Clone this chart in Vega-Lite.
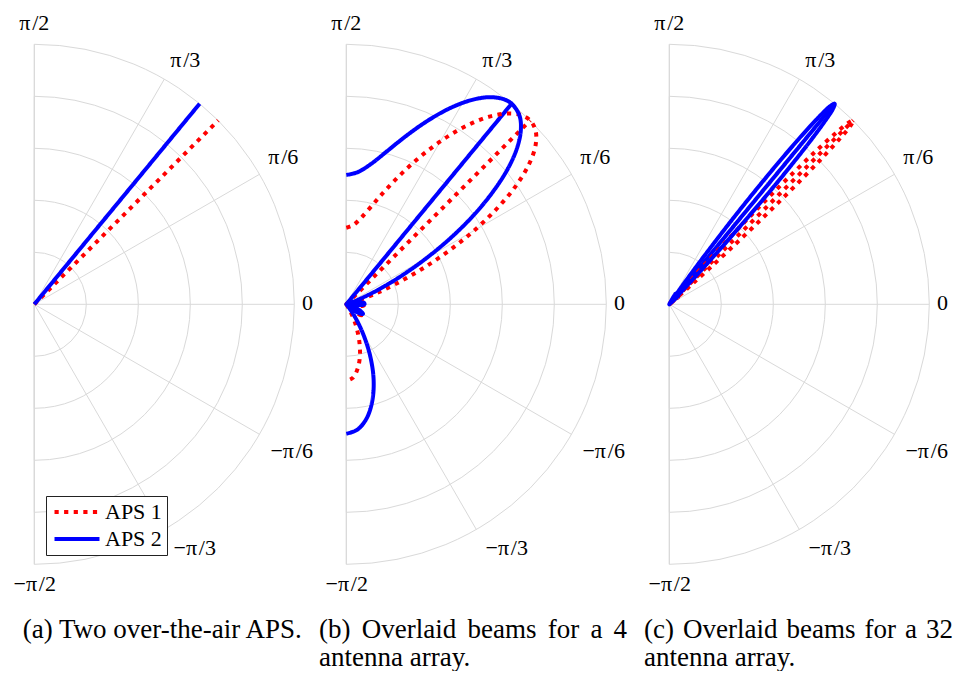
{
  "$schema": "https://vega.github.io/schema/vega-lite/v6.json",
  "padding": 0,
  "spacing": 0,
  "bounds": "flush",
  "background": "white",
  "config": {"view": {"stroke": null}, "font": "Liberation Serif"},
  "datasets": {
    "grid": [
      {"x": 0, "y": 0, "r": 1, "t0": 90, "t1": -90},
      {"x": 0, "y": 0, "r": 2, "t0": 90, "t1": -90},
      {"x": 0, "y": 0, "r": 3, "t0": 90, "t1": -90},
      {"x": 0, "y": 0, "r": 4, "t0": 90, "t1": -90},
      {"x": 0, "y": 0, "r": 5, "t0": 90, "t1": -90}
    ],
    "spokes": [
      {"x": 0, "y": 0, "x2": 5, "y2": 0},
      {"x": 0, "y": 0, "x2": 4.3301, "y2": 2.5},
      {"x": 0, "y": 0, "x2": 2.5, "y2": 4.3301},
      {"x": 0, "y": 0, "x2": 4.3301, "y2": -2.5},
      {"x": 0, "y": 0, "x2": 2.5, "y2": -4.3301},
      {"x": 0, "y": -5, "x2": 0, "y2": 5}
    ],
    "ticks": [
      {"label": "π\u200a/2", "x": 0, "y": 5.275},
      {"label": "π\u200a/3", "x": 2.904, "y": 4.569},
      {"label": "π\u200a/6", "x": 4.788, "y": 2.698},
      {"label": "0", "x": 5.254, "y": -0.11},
      {"label": "−π\u200a/6", "x": 4.95, "y": -2.95},
      {"label": "−π\u200a/3", "x": 3.085, "y": -4.821},
      {"label": "−π\u200a/2", "x": 0.008, "y": -5.513}
    ],
    "a": [
      {"series": "APS 1", "seg": "L", "i": 0, "x": 0, "y": 0},
      {"series": "APS 1", "seg": "L", "i": 1, "x": 3.5355, "y": 3.5355},
      {"series": "APS 2", "seg": "L", "i": 0, "x": 0, "y": 0},
      {"series": "APS 2", "seg": "L", "i": 1, "x": 3.18, "y": 3.858}
    ],
    "b": [
      {"series": "APS 1", "seg": "L", "i": 0, "x": 0, "y": 0},
      {"series": "APS 1", "seg": "L", "i": 1, "x": 3.5355, "y": 3.5355},
      {"series": "APS 2", "seg": "L", "i": 0, "x": 0, "y": 0},
      {"series": "APS 2", "seg": "L", "i": 1, "x": 3.18, "y": 3.858},
      {"series": "APS 1", "seg": "P", "i": 0, "x": 0, "y": 1.473},
      {"series": "APS 1", "seg": "P", "i": 1, "x": 0.1332, "y": 1.5222},
      {"series": "APS 1", "seg": "P", "i": 2, "x": 0.295, "y": 1.673},
      {"series": "APS 1", "seg": "P", "i": 3, "x": 0.5156, "y": 1.924},
      {"series": "APS 1", "seg": "P", "i": 4, "x": 0.6582, "y": 2.0875},
      {"series": "APS 1", "seg": "P", "i": 5, "x": 0.8274, "y": 2.273},
      {"series": "APS 1", "seg": "P", "i": 6, "x": 1.026, "y": 2.477},
      {"series": "APS 1", "seg": "P", "i": 7, "x": 1.257, "y": 2.695},
      {"series": "APS 1", "seg": "P", "i": 8, "x": 1.518, "y": 2.916},
      {"series": "APS 1", "seg": "P", "i": 9, "x": 1.809, "y": 3.133},
      {"series": "APS 1", "seg": "P", "i": 10, "x": 2.123, "y": 3.332},
      {"series": "APS 1", "seg": "P", "i": 11, "x": 2.449, "y": 3.497},
      {"series": "APS 1", "seg": "P", "i": 12, "x": 2.774, "y": 3.615},
      {"series": "APS 1", "seg": "P", "i": 13, "x": 3.078, "y": 3.668},
      {"series": "APS 1", "seg": "P", "i": 14, "x": 3.34, "y": 3.645},
      {"series": "APS 1", "seg": "P", "i": 15, "x": 3.5355, "y": 3.5355},
      {"series": "APS 1", "seg": "P", "i": 16, "x": 3.641, "y": 3.337},
      {"series": "APS 1", "seg": "P", "i": 17, "x": 3.639, "y": 3.053},
      {"series": "APS 1", "seg": "P", "i": 18, "x": 3.515, "y": 2.697},
      {"series": "APS 1", "seg": "P", "i": 19, "x": 3.269, "y": 2.289},
      {"series": "APS 1", "seg": "P", "i": 20, "x": 2.907, "y": 1.852},
      {"series": "APS 1", "seg": "P", "i": 21, "x": 2.461, "y": 1.421},
      {"series": "APS 1", "seg": "P", "i": 22, "x": 1.959, "y": 1.02},
      {"series": "APS 1", "seg": "P", "i": 23, "x": 1.4465, "y": 0.6745},
      {"series": "APS 1", "seg": "P", "i": 24, "x": 0.966, "y": 0.4},
      {"series": "APS 1", "seg": "P", "i": 25, "x": 0.561, "y": 0.204},
      {"series": "APS 1", "seg": "P", "i": 26, "x": 0.2575, "y": 0.0812},
      {"series": "APS 1", "seg": "P", "i": 27, "x": 0.0733, "y": 0.0196},
      {"series": "APS 1", "seg": "P", "i": 28, "x": 0, "y": 0},
      {"series": "APS 1", "seg": "P", "i": 29, "x": 0.0242, "y": 0.0043},
      {"series": "APS 1", "seg": "P", "i": 30, "x": 0.2132, "y": 0.0187},
      {"series": "APS 1", "seg": "P", "i": 31, "x": 0.362, "y": 0},
      {"series": "APS 1", "seg": "P", "i": 32, "x": 0.3205, "y": -0.028},
      {"series": "APS 1", "seg": "P", "i": 33, "x": 0.1485, "y": -0.0262},
      {"series": "APS 1", "seg": "P", "i": 34, "x": 0, "y": 0},
      {"series": "APS 1", "seg": "P", "i": 35, "x": 0.0273, "y": -0.0099},
      {"series": "APS 1", "seg": "P", "i": 36, "x": 0.1564, "y": -0.0729},
      {"series": "APS 1", "seg": "P", "i": 37, "x": 0.28, "y": -0.1617},
      {"series": "APS 1", "seg": "P", "i": 38, "x": 0.3015, "y": -0.2111},
      {"series": "APS 1", "seg": "P", "i": 39, "x": 0.2153, "y": -0.1806},
      {"series": "APS 1", "seg": "P", "i": 40, "x": 0.0921, "y": -0.0921},
      {"series": "APS 1", "seg": "P", "i": 41, "x": 0, "y": 0},
      {"series": "APS 1", "seg": "P", "i": 42, "x": 0.0103, "y": -0.0147},
      {"series": "APS 1", "seg": "P", "i": 43, "x": 0.0795, "y": -0.1377},
      {"series": "APS 1", "seg": "P", "i": 44, "x": 0.1746, "y": -0.3744},
      {"series": "APS 1", "seg": "P", "i": 45, "x": 0.2449, "y": -0.6728},
      {"series": "APS 1", "seg": "P", "i": 46, "x": 0.2627, "y": -0.9805},
      {"series": "APS 1", "seg": "P", "i": 47, "x": 0.2185, "y": -1.2389},
      {"series": "APS 1", "seg": "P", "i": 48, "x": 0.1239, "y": -1.4156},
      {"series": "APS 1", "seg": "P", "i": 49, "x": 0, "y": -1.473},
      {"series": "APS 2", "seg": "P", "i": 0, "x": 0, "y": 2.488},
      {"series": "APS 2", "seg": "P", "i": 1, "x": 0.2225, "y": 2.5427},
      {"series": "APS 2", "seg": "P", "i": 2, "x": 0.476, "y": 2.7},
      {"series": "APS 2", "seg": "P", "i": 3, "x": 0.7905, "y": 2.95},
      {"series": "APS 2", "seg": "P", "i": 4, "x": 0.9785, "y": 3.103},
      {"series": "APS 2", "seg": "P", "i": 5, "x": 1.189, "y": 3.267},
      {"series": "APS 2", "seg": "P", "i": 6, "x": 1.424, "y": 3.437},
      {"series": "APS 2", "seg": "P", "i": 7, "x": 1.679, "y": 3.601},
      {"series": "APS 2", "seg": "P", "i": 8, "x": 1.953, "y": 3.752},
      {"series": "APS 2", "seg": "P", "i": 9, "x": 2.236, "y": 3.873},
      {"series": "APS 2", "seg": "P", "i": 10, "x": 2.52, "y": 3.955},
      {"series": "APS 2", "seg": "P", "i": 11, "x": 2.789, "y": 3.983},
      {"series": "APS 2", "seg": "P", "i": 12, "x": 3.026, "y": 3.944},
      {"series": "APS 2", "seg": "P", "i": 13, "x": 3.18, "y": 3.858},
      {"series": "APS 2", "seg": "P", "i": 14, "x": 3.329, "y": 3.633},
      {"series": "APS 2", "seg": "P", "i": 15, "x": 3.357, "y": 3.357},
      {"series": "APS 2", "seg": "P", "i": 16, "x": 3.285, "y": 3.01},
      {"series": "APS 2", "seg": "P", "i": 17, "x": 3.106, "y": 2.606},
      {"series": "APS 2", "seg": "P", "i": 18, "x": 2.819, "y": 2.163},
      {"series": "APS 2", "seg": "P", "i": 19, "x": 2.452, "y": 1.717},
      {"series": "APS 2", "seg": "P", "i": 20, "x": 2.016, "y": 1.284},
      {"series": "APS 2", "seg": "P", "i": 21, "x": 1.551, "y": 0.896},
      {"series": "APS 2", "seg": "P", "i": 22, "x": 1.095, "y": 0.57},
      {"series": "APS 2", "seg": "P", "i": 23, "x": 0.689, "y": 0.321},
      {"series": "APS 2", "seg": "P", "i": 24, "x": 0.361, "y": 0.15},
      {"series": "APS 2", "seg": "P", "i": 25, "x": 0.137, "y": 0.05},
      {"series": "APS 2", "seg": "P", "i": 26, "x": 0, "y": 0},
      {"series": "APS 2", "seg": "P", "i": 27, "x": 0.158, "y": 0.028},
      {"series": "APS 2", "seg": "P", "i": 28, "x": 0.338, "y": 0.03},
      {"series": "APS 2", "seg": "P", "i": 29, "x": 0.35, "y": 0},
      {"series": "APS 2", "seg": "P", "i": 30, "x": 0.197, "y": -0.017},
      {"series": "APS 2", "seg": "P", "i": 31, "x": 0.035, "y": -0.006},
      {"series": "APS 2", "seg": "P", "i": 32, "x": 0, "y": 0},
      {"series": "APS 2", "seg": "P", "i": 33, "x": 0.13, "y": -0.047},
      {"series": "APS 2", "seg": "P", "i": 34, "x": 0.275, "y": -0.128},
      {"series": "APS 2", "seg": "P", "i": 35, "x": 0.321, "y": -0.185},
      {"series": "APS 2", "seg": "P", "i": 36, "x": 0.238, "y": -0.167},
      {"series": "APS 2", "seg": "P", "i": 37, "x": 0.099, "y": -0.083},
      {"series": "APS 2", "seg": "P", "i": 38, "x": 0, "y": 0},
      {"series": "APS 2", "seg": "P", "i": 39, "x": 0.025, "y": -0.03},
      {"series": "APS 2", "seg": "P", "i": 40, "x": 0.147, "y": -0.209},
      {"series": "APS 2", "seg": "P", "i": 41, "x": 0.311, "y": -0.539},
      {"series": "APS 2", "seg": "P", "i": 42, "x": 0.455, "y": -0.976},
      {"series": "APS 2", "seg": "P", "i": 43, "x": 0.525, "y": -1.442},
      {"series": "APS 2", "seg": "P", "i": 44, "x": 0.499, "y": -1.863},
      {"series": "APS 2", "seg": "P", "i": 45, "x": 0.388, "y": -2.199},
      {"series": "APS 2", "seg": "P", "i": 46, "x": 0.211, "y": -2.412},
      {"series": "APS 2", "seg": "P", "i": 47, "x": 0, "y": -2.488}
    ],
    "c": [
      {"series": "APS 1", "seg": "L", "i": 0, "x": 0, "y": 0},
      {"series": "APS 1", "seg": "L", "i": 1, "x": 3.5355, "y": 3.5355},
      {"series": "APS 2", "seg": "L", "i": 0, "x": 0, "y": 0},
      {"series": "APS 2", "seg": "L", "i": 1, "x": 3.18, "y": 3.858},
      {"series": "APS 1", "seg": "P", "i": 0, "x": 0, "y": 0},
      {"series": "APS 1", "seg": "P", "i": 1, "x": 0.0747, "y": 0.104},
      {"series": "APS 1", "seg": "P", "i": 2, "x": 0.1419, "y": 0.1873},
      {"series": "APS 1", "seg": "P", "i": 3, "x": 0.0748, "y": 0.0939},
      {"series": "APS 1", "seg": "P", "i": 4, "x": 0, "y": 0},
      {"series": "APS 1", "seg": "P", "i": 5, "x": 0.0576, "y": 0.0678},
      {"series": "APS 1", "seg": "P", "i": 6, "x": 0.1764, "y": 0.2044},
      {"series": "APS 1", "seg": "P", "i": 7, "x": 0.3822, "y": 0.4362},
      {"series": "APS 1", "seg": "P", "i": 8, "x": 0.6713, "y": 0.7546},
      {"series": "APS 1", "seg": "P", "i": 9, "x": 1.0456, "y": 1.1577},
      {"series": "APS 1", "seg": "P", "i": 10, "x": 1.4799, "y": 1.6143},
      {"series": "APS 1", "seg": "P", "i": 11, "x": 1.9482, "y": 2.0938},
      {"series": "APS 1", "seg": "P", "i": 12, "x": 2.4234, "y": 2.5667},
      {"series": "APS 1", "seg": "P", "i": 13, "x": 2.8501, "y": 2.9751},
      {"series": "APS 1", "seg": "P", "i": 14, "x": 3.199, "y": 3.2915},
      {"series": "APS 1", "seg": "P", "i": 15, "x": 3.4401, "y": 3.4893},
      {"series": "APS 1", "seg": "P", "i": 16, "x": 3.5355, "y": 3.5355},
      {"series": "APS 1", "seg": "P", "i": 17, "x": 3.4891, "y": 3.4403},
      {"series": "APS 1", "seg": "P", "i": 18, "x": 3.2909, "y": 3.1997},
      {"series": "APS 1", "seg": "P", "i": 19, "x": 2.9738, "y": 2.8515},
      {"series": "APS 1", "seg": "P", "i": 20, "x": 2.5647, "y": 2.4255},
      {"series": "APS 1", "seg": "P", "i": 21, "x": 2.0914, "y": 1.9508},
      {"series": "APS 1", "seg": "P", "i": 22, "x": 1.6116, "y": 1.4829},
      {"series": "APS 1", "seg": "P", "i": 23, "x": 1.1551, "y": 1.0485},
      {"series": "APS 1", "seg": "P", "i": 24, "x": 0.7524, "y": 0.6738},
      {"series": "APS 1", "seg": "P", "i": 25, "x": 0.4347, "y": 0.384},
      {"series": "APS 1", "seg": "P", "i": 26, "x": 0.2035, "y": 0.1774},
      {"series": "APS 1", "seg": "P", "i": 27, "x": 0.0675, "y": 0.058},
      {"series": "APS 1", "seg": "P", "i": 28, "x": 0, "y": 0},
      {"series": "APS 1", "seg": "P", "i": 29, "x": 0.093, "y": 0.0759},
      {"series": "APS 1", "seg": "P", "i": 30, "x": 0.185, "y": 0.145},
      {"series": "APS 1", "seg": "P", "i": 31, "x": 0.1022, "y": 0.0771},
      {"series": "APS 1", "seg": "P", "i": 32, "x": 0, "y": 0},
      {"series": "APS 2", "seg": "P", "i": 0, "x": 0, "y": 0},
      {"series": "APS 2", "seg": "P", "i": 1, "x": 0.0616, "y": 0.1122},
      {"series": "APS 2", "seg": "P", "i": 2, "x": 0.119, "y": 0.202},
      {"series": "APS 2", "seg": "P", "i": 3, "x": 0.0639, "y": 0.1016},
      {"series": "APS 2", "seg": "P", "i": 4, "x": 0, "y": 0},
      {"series": "APS 2", "seg": "P", "i": 5, "x": 0.05, "y": 0.074},
      {"series": "APS 2", "seg": "P", "i": 6, "x": 0.154, "y": 0.222},
      {"series": "APS 2", "seg": "P", "i": 7, "x": 0.335, "y": 0.474},
      {"series": "APS 2", "seg": "P", "i": 8, "x": 0.59, "y": 0.82},
      {"series": "APS 2", "seg": "P", "i": 9, "x": 0.922, "y": 1.258},
      {"series": "APS 2", "seg": "P", "i": 10, "x": 1.309, "y": 1.756},
      {"series": "APS 2", "seg": "P", "i": 11, "x": 1.729, "y": 2.278},
      {"series": "APS 2", "seg": "P", "i": 12, "x": 2.157, "y": 2.794},
      {"series": "APS 2", "seg": "P", "i": 13, "x": 2.544, "y": 3.241},
      {"series": "APS 2", "seg": "P", "i": 14, "x": 2.863, "y": 3.588},
      {"series": "APS 2", "seg": "P", "i": 15, "x": 3.087, "y": 3.805},
      {"series": "APS 2", "seg": "P", "i": 16, "x": 3.18, "y": 3.858},
      {"series": "APS 2", "seg": "P", "i": 17, "x": 3.146, "y": 3.756},
      {"series": "APS 2", "seg": "P", "i": 18, "x": 2.974, "y": 3.496},
      {"series": "APS 2", "seg": "P", "i": 19, "x": 2.694, "y": 3.117},
      {"series": "APS 2", "seg": "P", "i": 20, "x": 2.328, "y": 2.653},
      {"series": "APS 2", "seg": "P", "i": 21, "x": 1.903, "y": 2.135},
      {"series": "APS 2", "seg": "P", "i": 22, "x": 1.469, "y": 1.624},
      {"series": "APS 2", "seg": "P", "i": 23, "x": 1.055, "y": 1.149},
      {"series": "APS 2", "seg": "P", "i": 24, "x": 0.689, "y": 0.739},
      {"series": "APS 2", "seg": "P", "i": 25, "x": 0.398, "y": 0.421},
      {"series": "APS 2", "seg": "P", "i": 26, "x": 0.187, "y": 0.195},
      {"series": "APS 2", "seg": "P", "i": 27, "x": 0.0621, "y": 0.0638},
      {"series": "APS 2", "seg": "P", "i": 28, "x": 0, "y": 0},
      {"series": "APS 2", "seg": "P", "i": 29, "x": 0.0861, "y": 0.0836},
      {"series": "APS 2", "seg": "P", "i": 30, "x": 0.172, "y": 0.16},
      {"series": "APS 2", "seg": "P", "i": 31, "x": 0.0954, "y": 0.0853},
      {"series": "APS 2", "seg": "P", "i": 32, "x": 0, "y": 0}
    ]
  },
  "hconcat": [
    {
      "width": 312,
      "height": 600,
      "title": {"text": ["(a) Two over-the-air APS."], "orient": "bottom", "anchor": "start", "dx": 22.7, "offset": 37.7, "baseline": "alphabetic", "lineHeight": 28, "font": "Liberation Serif", "fontSize": 27, "fontWeight": "normal", "color": "black"},
      "encoding": {
        "x": {"field": "x", "type": "quantitative", "axis": null, "scale": {"domain": [-0.6596, 5.3404], "nice": false, "zero": false}},
        "y": {"field": "y", "type": "quantitative", "axis": null, "scale": {"domain": [-5.6865, 5.8519], "nice": false, "zero": false}}
      },
      "layer": [
        {"data": {"name": "grid"}, "mark": {"type": "arc", "filled": false, "color": "#d9d9d9", "strokeWidth": 1},
         "encoding": {"theta": {"field": "t0", "type": "quantitative", "stack": null, "scale": {"domain": [90, -270], "range": [0, 6.283185], "nice": false, "zero": false}}, "theta2": {"field": "t1"},
                      "radius": {"field": "r", "type": "quantitative", "scale": {"type": "linear", "domain": [0, 5], "range": [0, 260], "zero": true, "nice": false}}}},
        {"data": {"name": "spokes"}, "mark": {"type": "rule", "color": "#d9d9d9", "strokeWidth": 1},
         "encoding": {"x2": {"field": "x2"}, "y2": {"field": "y2"}}},
        {"data": {"name": "ticks"}, "mark": {"type": "text", "font": "Liberation Serif", "fontSize": 22, "baseline": "alphabetic", "align": "center", "color": "black"},
         "encoding": {"text": {"field": "label"}}},
        {"data": {"name": "a"}, "mark": {"type": "line", "strokeWidth": 4, "strokeJoin": "round"},
         "encoding": {
           "order": {"field": "i", "type": "quantitative"},
           "detail": {"field": "seg"},
           "color": {"field": "series", "type": "nominal", "scale": {"domain": ["APS 1", "APS 2"], "range": ["#ff0000", "#0000ff"]},
             "legend": {"title": null, "orient": "none", "legendX": 46, "legendY": 496, "fillColor": "white", "strokeColor": "#222222", "padding": 5, "cornerRadius": 0, "labelFont": "Liberation Serif", "labelFontSize": 22, "labelColor": "black", "symbolType": "M-4.09,0H4.09", "symbolSize": 121, "symbolStrokeWidth": 4, "symbolOffset": 15, "labelOffset": 17, "rowPadding": 5}},
           "strokeDash": {"field": "series", "type": "nominal", "scale": {"domain": ["APS 1", "APS 2"], "range": [[4.2, 5.4], [1, 0]]},
             "legend": {"title": null, "orient": "none", "legendX": 46, "legendY": 496, "fillColor": "white", "strokeColor": "#222222", "padding": 5, "cornerRadius": 0, "labelFont": "Liberation Serif", "labelFontSize": 22, "labelColor": "black", "symbolType": "M-4.09,0H4.09", "symbolSize": 121, "symbolStrokeWidth": 4, "symbolOffset": 15, "labelOffset": 17, "rowPadding": 5}}
         }}
      ]
    },
    {
      "width": 323,
      "height": 600,
      "title": {"text": ["(b)\u00a0\u2006Overlaid\u00a0\u2006beams\u00a0\u2006for\u00a0\u2006a\u00a0\u20064", "antenna array."], "orient": "bottom", "anchor": "start", "dx": 7, "offset": 37.7, "baseline": "alphabetic", "lineHeight": 28, "font": "Liberation Serif", "fontSize": 27, "fontWeight": "normal", "color": "black"},
      "encoding": {
        "x": {"field": "x", "type": "quantitative", "axis": null, "scale": {"domain": [-0.6596, 5.5519], "nice": false, "zero": false}},
        "y": {"field": "y", "type": "quantitative", "axis": null, "scale": {"domain": [-5.6865, 5.8519], "nice": false, "zero": false}}
      },
      "layer": [
        {"data": {"name": "grid"}, "mark": {"type": "arc", "filled": false, "color": "#d9d9d9", "strokeWidth": 1},
         "encoding": {"theta": {"field": "t0", "type": "quantitative", "stack": null, "scale": {"domain": [90, -270], "range": [0, 6.283185], "nice": false, "zero": false}}, "theta2": {"field": "t1"},
                      "radius": {"field": "r", "type": "quantitative", "scale": {"type": "linear", "domain": [0, 5], "range": [0, 260], "zero": true, "nice": false}}}},
        {"data": {"name": "spokes"}, "mark": {"type": "rule", "color": "#d9d9d9", "strokeWidth": 1},
         "encoding": {"x2": {"field": "x2"}, "y2": {"field": "y2"}}},
        {"data": {"name": "ticks"}, "mark": {"type": "text", "font": "Liberation Serif", "fontSize": 22, "baseline": "alphabetic", "align": "center", "color": "black"},
         "encoding": {"text": {"field": "label"}}},
        {"data": {"name": "b"}, "mark": {"type": "line", "strokeWidth": 4, "strokeJoin": "round", "interpolate": "catmull-rom"},
         "encoding": {
           "order": {"field": "i", "type": "quantitative"},
           "detail": {"field": "seg"},
           "color": {"field": "series", "type": "nominal", "scale": {"domain": ["APS 1", "APS 2"], "range": ["#ff0000", "#0000ff"]},
             "legend": {"title": null, "orient": "none", "legendX": 46, "legendY": 496, "fillColor": "white", "strokeColor": "#222222", "padding": 5, "cornerRadius": 0, "labelFont": "Liberation Serif", "labelFontSize": 22, "labelColor": "black", "symbolType": "M-4.09,0H4.09", "symbolSize": 121, "symbolStrokeWidth": 4, "symbolOffset": 15, "labelOffset": 17, "rowPadding": 5}},
           "strokeDash": {"field": "series", "type": "nominal", "scale": {"domain": ["APS 1", "APS 2"], "range": [[4.2, 5.4], [1, 0]]},
             "legend": {"title": null, "orient": "none", "legendX": 46, "legendY": 496, "fillColor": "white", "strokeColor": "#222222", "padding": 5, "cornerRadius": 0, "labelFont": "Liberation Serif", "labelFontSize": 22, "labelColor": "black", "symbolType": "M-4.09,0H4.09", "symbolSize": 121, "symbolStrokeWidth": 4, "symbolOffset": 15, "labelOffset": 17, "rowPadding": 5}}
         }}
      ]
    },
    {
      "width": 321,
      "height": 600,
      "title": {"text": ["(c)\u00a0\u200aOverlaid\u00a0\u200abeams\u00a0\u200afor\u00a0\u200aa\u00a0\u200a32", "antenna array."], "orient": "bottom", "anchor": "start", "dx": 9, "offset": 37.7, "baseline": "alphabetic", "lineHeight": 28, "font": "Liberation Serif", "fontSize": 27, "fontWeight": "normal", "color": "black"},
      "encoding": {
        "x": {"field": "x", "type": "quantitative", "axis": null, "scale": {"domain": [-0.6596, 5.5135], "nice": false, "zero": false}},
        "y": {"field": "y", "type": "quantitative", "axis": null, "scale": {"domain": [-5.6865, 5.8519], "nice": false, "zero": false}}
      },
      "layer": [
        {"data": {"name": "grid"}, "mark": {"type": "arc", "filled": false, "color": "#d9d9d9", "strokeWidth": 1},
         "encoding": {"theta": {"field": "t0", "type": "quantitative", "stack": null, "scale": {"domain": [90, -270], "range": [0, 6.283185], "nice": false, "zero": false}}, "theta2": {"field": "t1"},
                      "radius": {"field": "r", "type": "quantitative", "scale": {"type": "linear", "domain": [0, 5], "range": [0, 260], "zero": true, "nice": false}}}},
        {"data": {"name": "spokes"}, "mark": {"type": "rule", "color": "#d9d9d9", "strokeWidth": 1},
         "encoding": {"x2": {"field": "x2"}, "y2": {"field": "y2"}}},
        {"data": {"name": "ticks"}, "mark": {"type": "text", "font": "Liberation Serif", "fontSize": 22, "baseline": "alphabetic", "align": "center", "color": "black"},
         "encoding": {"text": {"field": "label"}}},
        {"data": {"name": "c"}, "mark": {"type": "line", "strokeWidth": 4, "strokeJoin": "round", "interpolate": "catmull-rom"},
         "encoding": {
           "order": {"field": "i", "type": "quantitative"},
           "detail": {"field": "seg"},
           "color": {"field": "series", "type": "nominal", "scale": {"domain": ["APS 1", "APS 2"], "range": ["#ff0000", "#0000ff"]},
             "legend": {"title": null, "orient": "none", "legendX": 46, "legendY": 496, "fillColor": "white", "strokeColor": "#222222", "padding": 5, "cornerRadius": 0, "labelFont": "Liberation Serif", "labelFontSize": 22, "labelColor": "black", "symbolType": "M-4.09,0H4.09", "symbolSize": 121, "symbolStrokeWidth": 4, "symbolOffset": 15, "labelOffset": 17, "rowPadding": 5}},
           "strokeDash": {"field": "series", "type": "nominal", "scale": {"domain": ["APS 1", "APS 2"], "range": [[4.2, 5.4], [1, 0]]},
             "legend": {"title": null, "orient": "none", "legendX": 46, "legendY": 496, "fillColor": "white", "strokeColor": "#222222", "padding": 5, "cornerRadius": 0, "labelFont": "Liberation Serif", "labelFontSize": 22, "labelColor": "black", "symbolType": "M-4.09,0H4.09", "symbolSize": 121, "symbolStrokeWidth": 4, "symbolOffset": 15, "labelOffset": 17, "rowPadding": 5}}
         }}
      ]
    }
  ]
}
